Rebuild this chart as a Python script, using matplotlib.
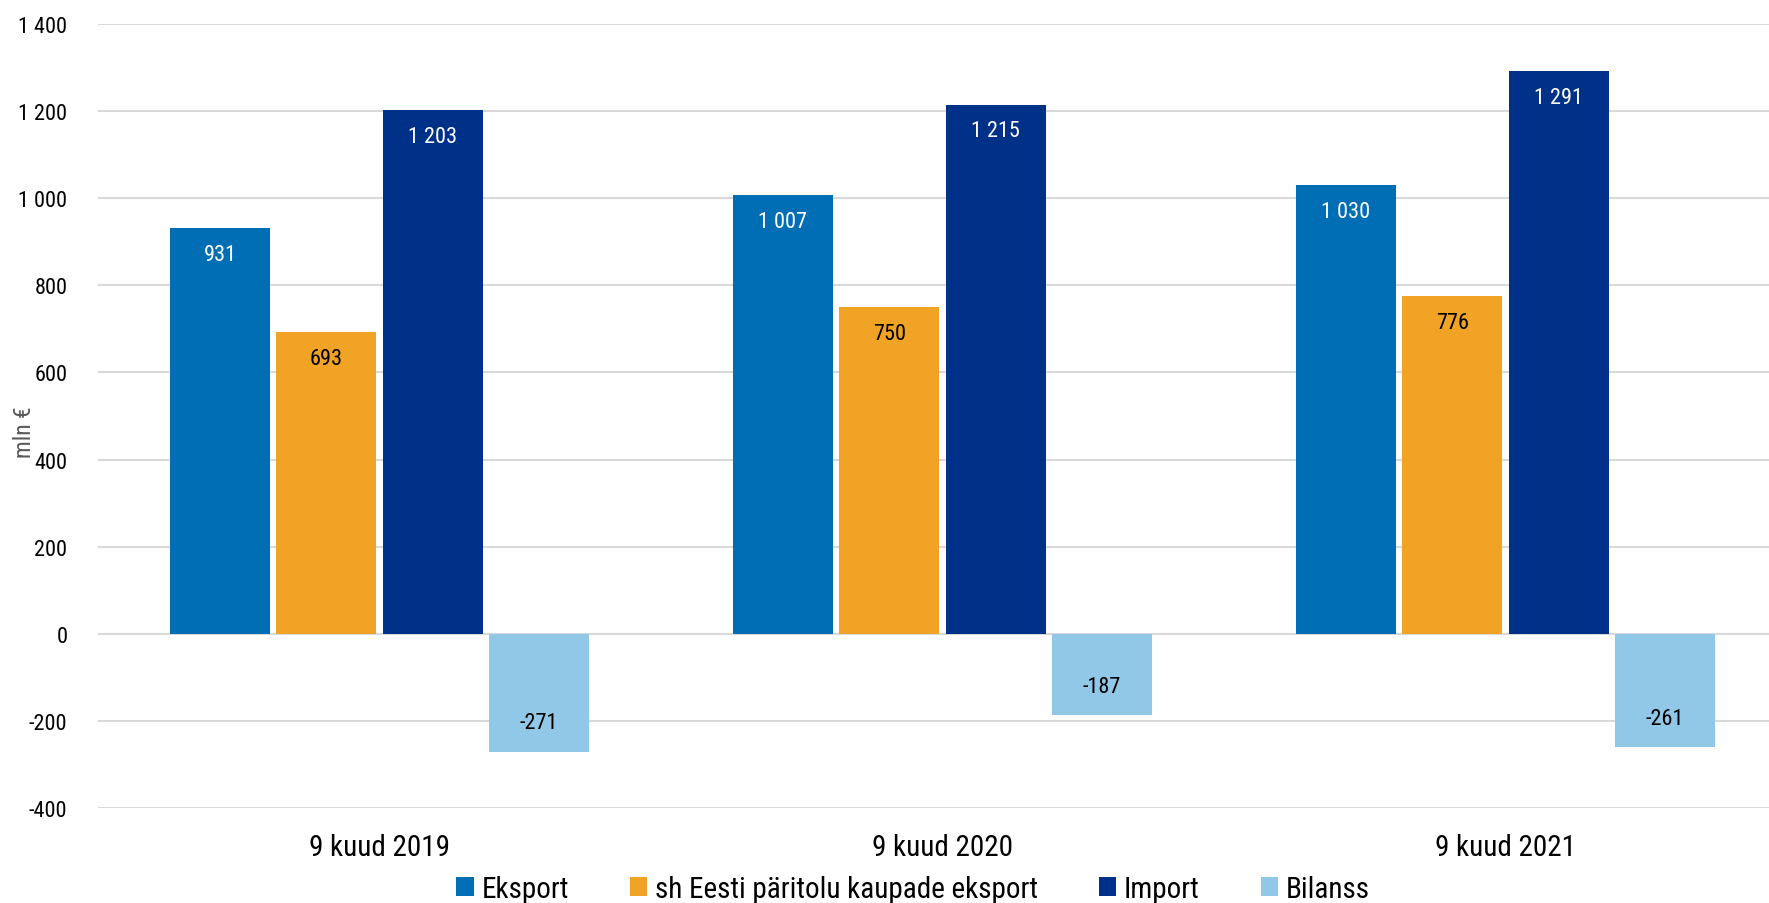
import matplotlib
matplotlib.use('Agg')
import matplotlib.pyplot as plt
from matplotlib import font_manager
from matplotlib.patches import Patch
import numpy as np

# data
categories = ['9 kuud 2019', '9 kuud 2020', '9 kuud 2021']
series_names = ['Eksport', 'sh Eesti päritolu kaupade eksport', 'Import', 'Bilanss']
eksport = [931, 1007, 1030]
eesti_eksport = [693, 750, 776]
imp = [1203, 1215, 1291]
bilanss = [-271, -187, -261]
y_ticks = [-400, -200, 0, 200, 400, 600, 800, 1000, 1200, 1400]

colors = ['#006EB5', '#F0A324', '#003189', '#91C8E7']
label_colors = ['white', 'black', 'white', 'black']

# font: pick a condensed one if present
available = {f.name for f in font_manager.fontManager.ttflist}
family = 'Roboto'
for name in ['Roboto Condensed', 'Liberation Sans Narrow', 'Roboto']:
    if name in available:
        family = name
        break
plt.rcParams['font.family'] = [family, 'DejaVu Sans']


def fmt(v):
    s = f'{abs(v):,}'.replace(',', ' ')
    return ('-' if v < 0 else '') + s


fig = plt.figure(figsize=(17.69, 9.04), dpi=100)
ax = fig.add_axes([98 / 1769, 95 / 904, 1689 / 1769, 784 / 904])

x = np.arange(len(categories))
width = 0.177
step = 0.189
all_series = [eksport, eesti_eksport, imp, bilanss]

for i, vals in enumerate(all_series):
    pos = x + (i - 1.5) * step
    ax.bar(pos, vals, width=width, color=colors[i], zorder=3)
    for px, v in zip(pos, vals):
        off = -19 if v >= 0 else 21
        ax.annotate(fmt(v), (px, v), xytext=(0, off), textcoords='offset points',
                    ha='center', va='center', fontsize=16, color=label_colors[i], zorder=4)

ax.set_xlim(-0.5, 2.5)
ax.set_ylim(-400, 1400)
ax.set_yticks(y_ticks)
ax.set_yticklabels([fmt(t) for t in y_ticks], fontsize=16)
ax.set_xticks(x)
ax.set_xticklabels(categories, fontsize=21)
ax.tick_params(axis='both', length=0)
ax.tick_params(axis='x', pad=18)
ax.tick_params(axis='y', pad=22)
ax.grid(axis='y', color='#D9D9D9', linewidth=1.5, zorder=0)
for s in ax.spines.values():
    s.set_visible(False)
ax.set_ylabel('mln €', fontsize=17, color='#595959')
ax.yaxis.set_label_coords(-0.037, 0.48)

handles = [Patch(facecolor=c, edgecolor='none') for c in colors]
fig.legend(handles, series_names, loc='center', bbox_to_anchor=(913 / 1769, 1 - 890 / 904),
           ncol=4, frameon=False, fontsize=21, handlelength=0.6, handleheight=0.6,
           handletextpad=0.25, columnspacing=2.1)

fig.savefig('out.png', dpi=100)
plt.close(fig)
